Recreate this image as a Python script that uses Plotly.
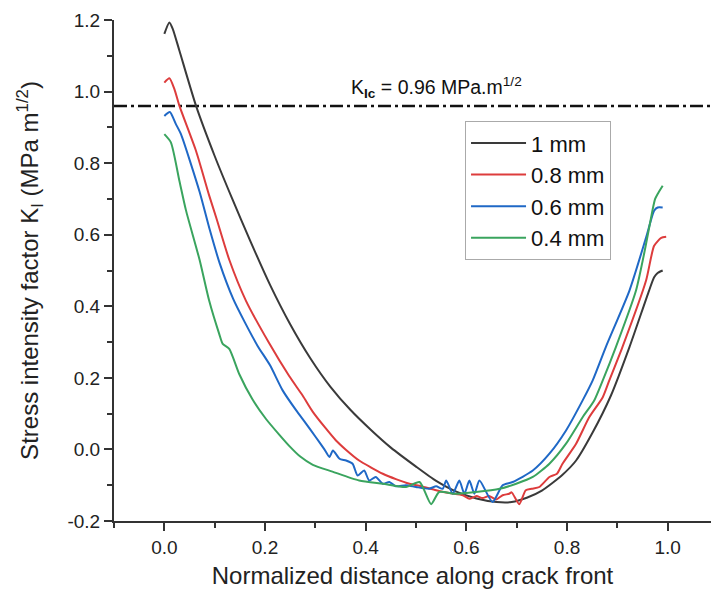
import plotly.graph_objects as go

# ---- data ----
names = ["1 mm", "0.8 mm", "0.6 mm", "0.4 mm"]
colors = ["#3a3a3a", "#dd3c3c", "#1f68c6", "#3aa45e"]

x_1mm = [0, 0.01, 0.017, 0.03, 0.063, 0.1, 0.135, 0.17, 0.21, 0.25, 0.29, 0.33, 0.37, 0.41,
         0.45, 0.50, 0.54, 0.58, 0.62, 0.66, 0.69, 0.72, 0.75, 0.79, 0.818, 0.85, 0.887,
         0.924, 0.963, 0.973, 0.98, 0.99]
y_1mm = [1.161, 1.193, 1.174, 1.114, 0.96, 0.82, 0.70, 0.585, 0.46, 0.35, 0.255, 0.175, 0.11, 0.055,
         0.005, -0.048, -0.088, -0.118, -0.137, -0.147, -0.147, -0.135, -0.115, -0.072, -0.031, 0.045, 0.15,
         0.286, 0.444, 0.481, 0.493, 0.50]

x_08mm = [0, 0.01, 0.02, 0.03, 0.063, 0.089, 0.103, 0.129, 0.162, 0.209, 0.248, 0.275, 0.295, 0.32,
          0.341, 0.36, 0.387, 0.41, 0.434, 0.46, 0.487, 0.51, 0.54, 0.566, 0.593, 0.606, 0.62, 0.632,
          0.645, 0.659, 0.672, 0.685, 0.69, 0.705, 0.718, 0.73, 0.745, 0.765, 0.78, 0.791, 0.818,
          0.844, 0.871, 0.884, 0.91, 0.957, 0.973, 0.987, 0.997]
y_08mm = [1.025, 1.037, 1.007, 0.96, 0.834, 0.71, 0.648, 0.53, 0.416, 0.295, 0.205, 0.15, 0.105, 0.06,
          0.025, 0.0, -0.031, -0.05, -0.068, -0.083, -0.096, -0.103, -0.114, -0.122, -0.128, -0.138, -0.13, -0.136,
          -0.13, -0.14, -0.128, -0.124, -0.12, -0.153, -0.114, -0.11, -0.105, -0.077, -0.068, -0.04, 0.016,
          0.09, 0.146, 0.193, 0.286, 0.472, 0.569, 0.591, 0.594]

x_06mm = [0, 0.011, 0.023, 0.033, 0.07, 0.09, 0.11, 0.137, 0.16, 0.185, 0.21, 0.235, 0.262, 0.28,
          0.301, 0.318, 0.328, 0.335, 0.348, 0.361, 0.374, 0.384, 0.397, 0.407, 0.42, 0.434, 0.447, 0.46,
          0.48, 0.50, 0.526, 0.54, 0.553, 0.56, 0.573, 0.586, 0.596, 0.606, 0.616, 0.626, 0.652, 0.672,
          0.692, 0.732, 0.765, 0.798, 0.831, 0.851, 0.877, 0.924, 0.957, 0.973, 0.98, 0.99]
y_06mm = [0.932, 0.943, 0.909, 0.881, 0.72, 0.615, 0.52, 0.42, 0.355, 0.29, 0.235, 0.165, 0.109, 0.075,
          0.034, 0.0, -0.021, -0.003, -0.026, -0.031, -0.04, -0.073, -0.059, -0.087, -0.077, -0.096, -0.091, -0.103,
          -0.10, -0.105, -0.11, -0.103, -0.11, -0.087, -0.124, -0.087, -0.124, -0.087, -0.124, -0.087, -0.147, -0.10,
          -0.091, -0.059, -0.012, 0.053, 0.137, 0.193, 0.286, 0.444, 0.592, 0.667, 0.676, 0.676]

x_04mm = [0, 0.013, 0.03, 0.043, 0.07, 0.089, 0.109, 0.116, 0.129, 0.149, 0.175, 0.202, 0.229, 0.248,
          0.27, 0.295, 0.334, 0.387, 0.434, 0.48, 0.507, 0.53, 0.546, 0.579, 0.619, 0.666, 0.699, 0.732,
          0.765, 0.798, 0.831, 0.854, 0.871, 0.897, 0.937, 0.955, 0.97, 0.975, 0.98, 0.99]
y_04mm = [0.881, 0.858, 0.75, 0.668, 0.53, 0.416, 0.323, 0.295, 0.281, 0.21, 0.14, 0.085, 0.04, 0.01,
          -0.02, -0.043, -0.062, -0.087, -0.096, -0.105, -0.091, -0.153, -0.119, -0.124, -0.119, -0.11, -0.096, -0.077,
          -0.04, 0.016, 0.09, 0.137, 0.193, 0.286, 0.444, 0.56, 0.67, 0.70, 0.714, 0.737]

klc_value = 0.96
x_ticks = [0.0, 0.2, 0.4, 0.6, 0.8, 1.0]
y_ticks = [-0.2, 0.0, 0.2, 0.4, 0.6, 0.8, 1.0, 1.2]

series_x = [x_1mm, x_08mm, x_06mm, x_04mm]
series_y = [y_1mm, y_08mm, y_06mm, y_04mm]

FONT = "Liberation Sans, Arial, sans-serif"
AXC = "#333333"

fig = go.Figure()
for n, c, xs, ys in zip(names, colors, series_x, series_y):
    fig.add_trace(go.Scatter(x=xs, y=ys, mode="lines", name=n,
                             line=dict(color=c, width=2, shape="spline", smoothing=0.6)))

# critical K_Ic line
fig.add_shape(type="line", xref="paper", yref="y", x0=0, x1=1, y0=klc_value, y1=klc_value,
              line=dict(color="#111111", width=2.5, dash="13px,4px,3px,4px"), layer="below")
fig.add_annotation(x=0.3675, y=klc_value + 0.008, xref="x", yref="y", xanchor="left", yanchor="bottom",
                   text="K<sub><b>Ic</b></sub> = 0.96 MPa.m<sup>1/2</sup>", showarrow=False,
                   font=dict(family=FONT, size=19.5, color="#111111"))

fig.update_layout(
    width=711, height=594,
    margin=dict(l=114, r=0, t=20, b=73),
    paper_bgcolor="white", plot_bgcolor="white",
    font=dict(family=FONT, color="#222222"),
    showlegend=True,
    legend=dict(x=0.588, y=0.798, xanchor="left", yanchor="top",
                bgcolor="white", bordercolor="#aaaaaa", borderwidth=1,
                font=dict(family=FONT, size=22, color="#111111"),
                itemwidth=55, tracegroupgap=0),
    xaxis=dict(range=[-0.1, 1.086], tickvals=x_ticks, ticktext=[f"{v:.1f}" for v in x_ticks],
               showgrid=False, zeroline=False, showline=True, linecolor=AXC, linewidth=2,
               ticks="outside", ticklen=8, tickwidth=2, tickcolor=AXC,
               minor=dict(dtick=0.1, tick0=0, ticks="outside", ticklen=5, tickwidth=1.5, tickcolor=AXC),
               tickfont=dict(family=FONT, size=19, color="#222222"),
               title=dict(text="Normalized distance along crack front", standoff=10,
                          font=dict(family=FONT, size=24, color="#222222"))),
    yaxis=dict(range=[-0.2, 1.2], tickvals=y_ticks, ticktext=[f"{v:.1f}" for v in y_ticks],
               showgrid=False, zeroline=False, showline=True, linecolor=AXC, linewidth=2,
               ticks="outside", ticklen=8, tickwidth=2, tickcolor=AXC,
               minor=dict(dtick=0.1, tick0=0, ticks="outside", ticklen=5, tickwidth=1.5, tickcolor=AXC),
               tickfont=dict(family=FONT, size=19, color="#222222"),
               title=dict(text="Stress intensity factor K<sub>I</sub> (MPa m<sup>1/2</sup>)", standoff=22,
                          font=dict(family=FONT, size=24, color="#222222"))),
)

fig.write_html("out.html")
